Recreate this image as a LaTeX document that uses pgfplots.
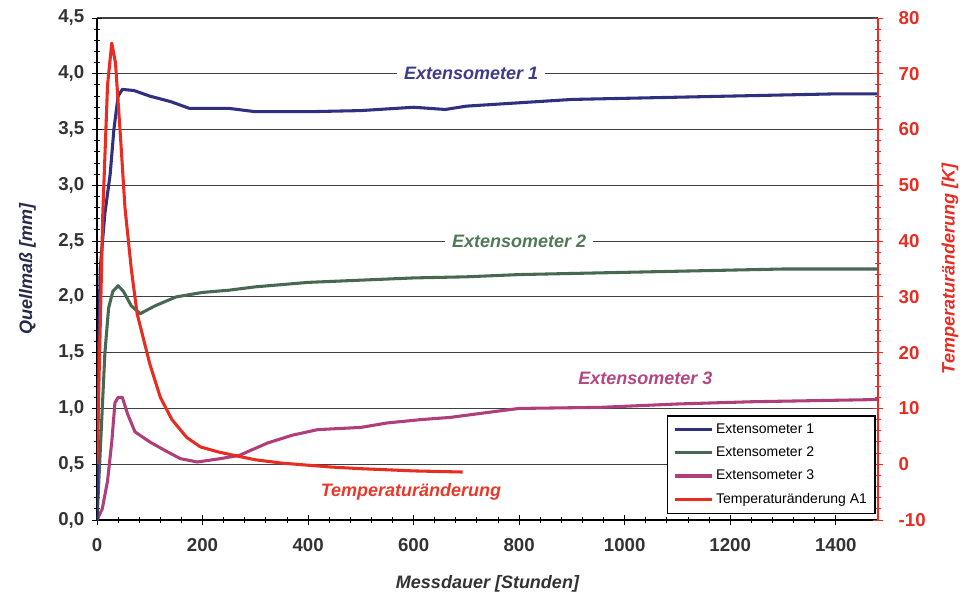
\documentclass[border=0pt]{standalone}
\usepackage{fontspec}
\setmainfont{Liberation Sans}
\usepackage{pgfplots}
\pgfplotsset{compat=1.18}
\definecolor{cEa}{RGB}{48,48,128}
\definecolor{cEb}{RGB}{72,104,82}
\definecolor{cEc}{RGB}{176,62,122}
\definecolor{cT}{RGB}{232,44,34}
\definecolor{tA}{RGB}{62,58,140}
\definecolor{tB}{RGB}{78,122,88}
\definecolor{tC}{RGB}{180,70,130}
\definecolor{tT}{RGB}{232,56,42}
\begin{document}
\begin{tikzpicture}
\useasboundingbox (-72.75pt,-60pt) rectangle (653.25pt,390pt);
\pgfplotsset{
  common/.style={
    scale only axis, width=585.75pt, height=376.5pt,
    xmin=0, xmax=1480,
    /pgf/number format/assume math mode=true,
    tick align=center, major tick length=8pt, minor tick length=4pt,
    axis line style={-, line width=0.8pt},
    every tick/.style={line width=0.7pt},
  },
}
\begin{axis}[common,
  ymin=0, ymax=4.5,
  axis x line*=bottom, axis y line*=left,
  xtick={0,200,...,1400}, minor x tick num=4,
  ytick={0,0.5,...,4.5}, minor y tick num=4,
  ymajorgrids, grid style={black!75, line width=0.9pt},
  yticklabel={\pgfmathprintnumber[fixed, fixed zerofill, precision=1, use comma]{\tick}},
  xticklabel={\pgfmathprintnumber[fixed, precision=0, 1000 sep={}]{\tick}},
  tick label style={font=\bfseries\fontsize{14}{16}\selectfont, text=black!80},
  yticklabel style={xshift=-2pt},
  xticklabel style={yshift=-6pt},
  ylabel={Quellmaß [mm]},
  ylabel style={font=\bfseries\itshape\fontsize{13.5}{16}\selectfont, text={rgb,255:red,40;green,40;blue,75}, yshift=10pt},
  xlabel={Messdauer [Stunden]},
  xlabel style={font=\bfseries\itshape\fontsize{13.5}{16}\selectfont, text=black!80, yshift=-11pt},
]
\addplot[cEc, line width=2.3pt, line join=round] coordinates {
(0,0) (10,0.1) (20,0.35) (28,0.7) (34,1.05) (40,1.1) (48,1.1) (58,0.95) (72,0.79)
(100,0.7) (130,0.62) (158,0.55) (190,0.52) (234,0.55) (270,0.58) (323,0.69)
(370,0.76) (418,0.81) (500,0.83) (550,0.87) (614,0.9) (670,0.92) (750,0.97)
(800,1.0) (955,1.01) (1100,1.04) (1240,1.06) (1480,1.08)};
\addplot[cEb, line width=2.3pt, line join=round] coordinates {
(0,0) (8,0.8) (15,1.5) (22,1.9) (30,2.05) (40,2.1) (50,2.05) (65,1.92) (82,1.85)
(110,1.92) (150,2.0) (200,2.04) (250,2.06) (300,2.09) (350,2.11) (400,2.13)
(500,2.15) (600,2.17) (700,2.18) (800,2.20) (900,2.21) (1000,2.22) (1100,2.23)
(1200,2.24) (1300,2.25) (1480,2.25)};
\addplot[cEa, line width=2.3pt, line join=round] coordinates {
(0,0) (3,1.5) (6,2.25) (15,2.75) (25,3.1) (32,3.5) (40,3.8) (48,3.86) (70,3.85)
(100,3.80) (140,3.75) (175,3.69) (250,3.69) (300,3.66) (400,3.66) (500,3.67)
(600,3.70) (660,3.68) (700,3.71) (800,3.74) (900,3.77) (1000,3.78) (1100,3.79)
(1200,3.80) (1300,3.81) (1400,3.82) (1480,3.82)};
\node[fill=white, inner xsep=5pt, text=tA, font=\bfseries\itshape\fontsize{13.5}{16}\selectfont] at (axis cs:709,4.0) {Extensometer 1};
\node[fill=white, inner xsep=5pt, text=tB, font=\bfseries\itshape\fontsize{13.5}{16}\selectfont] at (axis cs:800,2.5) {Extensometer 2};
\node[text=tC, font=\bfseries\itshape\fontsize{13.5}{16}\selectfont] at (axis cs:1039,1.27) {Extensometer 3};
\node[text=tT, font=\bfseries\itshape\fontsize{13.5}{16}\selectfont] at (axis cs:595,0.25) {Temperaturänderung};
\end{axis}
\begin{axis}[common,
  ymin=-10, ymax=80,
  axis x line=none, axis y line*=right,
  ytick={-10,0,...,80}, minor y tick num=4,
  y axis line style={cT, line width=0.9pt},
  ytick style={cT},
  yticklabel style={font=\bfseries\fontsize{14}{16}\selectfont, text=cT, xshift=8pt},
  ylabel={Temperaturänderung [K]},
  ylabel style={font=\bfseries\itshape\fontsize{13.5}{16}\selectfont, text=cT, yshift=-5pt},
  legend cell align=left,
  legend style={at={(rel axis cs:0.997,0.012)}, anchor=south east,
    font=\fontsize{10.5}{12}\selectfont, draw=black, line width=0.9pt,
    row sep=4.5pt, inner xsep=4pt, inner ysep=4pt},
  legend image code/.code={\draw[#1, line width=2.3pt] (0pt,0pt) -- (28pt,0pt);},
]
\addlegendimage{cEa}
\addlegendentry{Extensometer 1}
\addlegendimage{cEb}
\addlegendentry{Extensometer 2}
\addlegendimage{cEc}
\addlegendentry{Extensometer 3}
\addplot[cT, line width=2.3pt, line join=round] coordinates {
(0,0) (5,20) (11,45) (20,68) (28,75.5) (35,72) (45,58) (53,46) (65,35) (76,27)
(100,18) (120,12) (142,8) (170,4.8) (196,3.1) (230,2.2) (259,1.6) (300,0.8)
(350,0.2) (443,-0.5) (500,-0.8) (600,-1.2) (693,-1.4)};
\addlegendentry{Temperaturänderung A1}
\end{axis}
\end{tikzpicture}
\end{document}
